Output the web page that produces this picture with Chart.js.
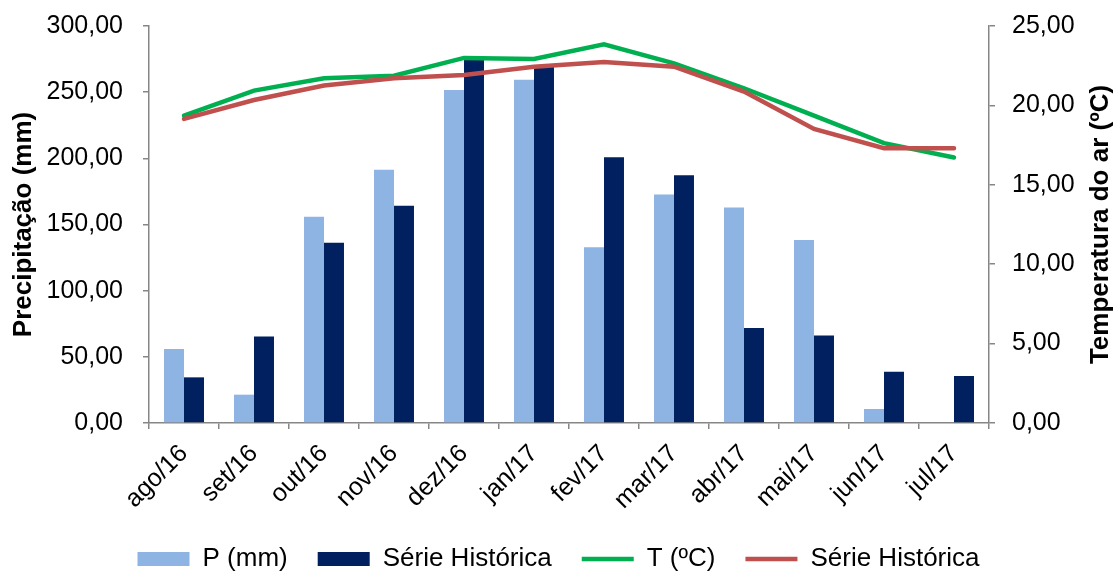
<!DOCTYPE html>
<html>
<head>
<meta charset="utf-8">
<script src="https://cdn.jsdelivr.net/npm/chart.js@4"></script>
<style>
  body { margin: 0; background: #fff; }
  #box { width: 1117px; height: 571px; }
</style>
</head>
<body>
<div id="box"><canvas id="grafico"></canvas></div>
<script>
// Dados
const meses = ['ago/16', 'set/16', 'out/16', 'nov/16', 'dez/16', 'jan/17', 'fev/17', 'mar/17', 'abr/17', 'mai/17', 'jun/17', 'jul/17'];
const precipitacao = [55.9, 21.4, 155.8, 191.3, 251.7, 259.3, 132.9, 172.7, 162.9, 138.2, 10.6, 0];
const precipHistorica = [34.5, 65.4, 136.2, 164.1, 275.0, 269.0, 200.9, 187.3, 71.7, 66.2, 38.8, 35.5];
const temperatura = [19.36, 20.93, 21.71, 21.87, 22.99, 22.92, 23.85, 22.65, 21.08, 19.36, 17.62, 16.72];
const tempHistorica = [19.15, 20.34, 21.25, 21.71, 21.92, 22.44, 22.73, 22.44, 20.87, 18.52, 17.30, 17.30];

const cinza = '#868686';
Chart.defaults.font.family = "'Liberation Sans', Arial, sans-serif";
Chart.defaults.color = '#000';

const formatar = v => v.toFixed(2).replace('.', ',');

// título do eixo direito (lido de baixo para cima, como no Excel)
const tituloDireito = {
    id: 'tituloDireito',
    afterDraw(chart) {
        const ctx = chart.ctx;
        const area = chart.chartArea;
        ctx.save();
        ctx.translate(1101, (area.top + area.bottom) / 2);
        ctx.rotate(-Math.PI / 2);
        ctx.font = "bold 26px 'Liberation Sans', Arial, sans-serif";
        ctx.fillStyle = '#000';
        ctx.textAlign = 'center';
        ctx.textBaseline = 'middle';
        ctx.fillText('Temperatura do ar (ºC)', 0, 0);
        ctx.restore();
    }
};

// largura fixa do eixo, sem a folga extra que o padding dos ticks cria em cima
function larguraFixa(largura) {
    return s => {
        s.width = largura;
        s.paddingTop = 0;
        s.paddingBottom = 0;
    };
}

const ctx = document.getElementById('grafico').getContext('2d');

new Chart(ctx, {
    type: 'bar',
    data: {
        labels: meses,
        datasets: [
            {
                label: 'P (mm)',
                data: precipitacao,
                backgroundColor: '#8EB4E3',
                yAxisID: 'y',
                pointStyle: 'rect',
                order: 2
            },
            {
                label: 'Série Histórica',
                data: precipHistorica,
                backgroundColor: '#002060',
                yAxisID: 'y',
                pointStyle: 'rect',
                order: 2
            },
            {
                type: 'line',
                label: 'T (ºC)',
                data: temperatura,
                borderColor: '#00B050',
                backgroundColor: '#00B050',
                borderWidth: 4.5,
                borderCapStyle: 'round',
                pointRadius: 0,
                pointStyle: 'line',
                yAxisID: 'y1',
                order: 1
            },
            {
                type: 'line',
                label: 'Série Histórica',
                data: tempHistorica,
                borderColor: '#C0504D',
                backgroundColor: '#C0504D',
                borderWidth: 4.5,
                borderCapStyle: 'round',
                pointRadius: 0,
                pointStyle: 'line',
                yAxisID: 'y1',
                order: 0
            }
        ]
    },
    options: {
        responsive: true,
        maintainAspectRatio: false,
        animation: false,
        layout: { padding: { top: 26, left: 0, right: 0, bottom: -11 } },
        datasets: {
            bar: { categoryPercentage: 0.571, barPercentage: 1.0 }
        },
        plugins: {
            tooltip: { enabled: false },
            legend: {
                position: 'bottom',
                labels: {
                    usePointStyle: true,
                    pointStyleWidth: 52,
                    boxHeight: 14,
                    padding: 30,
                    font: { size: 26 },
                    sort: (a, b) => a.datasetIndex - b.datasetIndex
                }
            }
        },
        scales: {
            x: {
                grid: { drawOnChartArea: false, color: cinza, tickLength: 6, lineWidth: 1.5 },
                border: { color: cinza, width: 1.5 },
                ticks: { maxRotation: 45, minRotation: 45, padding: 10, font: { size: 25 } },
                afterFit: s => { s.height = 93; }
            },
            y: {
                position: 'left',
                min: 0,
                max: 300,
                grid: { drawOnChartArea: false, color: cinza, tickLength: 6, lineWidth: 1.5 },
                border: { color: cinza, width: 1.5 },
                ticks: { stepSize: 50, padding: 20, font: { size: 25 }, callback: v => formatar(v) },
                title: { display: true, text: 'Precipitação (mm)', font: { size: 26, weight: 'bold' }, padding: { top: 8, bottom: 0 } },
                afterFit: larguraFixa(149)
            },
            y1: {
                position: 'right',
                min: 0,
                max: 25,
                grid: { drawOnChartArea: false, color: cinza, tickLength: 6, lineWidth: 1.5 },
                border: { color: cinza, width: 1.5 },
                ticks: { stepSize: 5, padding: 17, font: { size: 25 }, callback: v => formatar(v) },
                afterFit: larguraFixa(128)
            }
        }
    },
    plugins: [tituloDireito]
});
</script>
</body>
</html>
